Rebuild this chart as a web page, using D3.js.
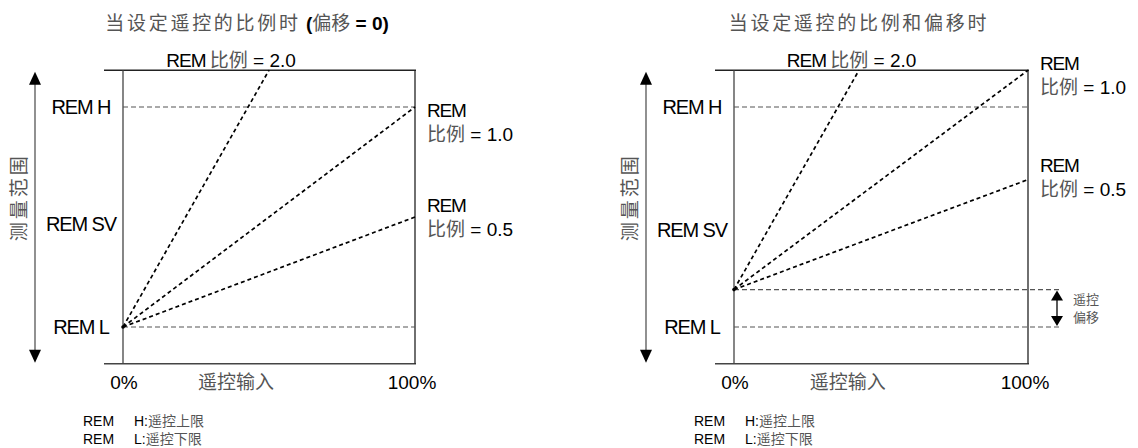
<!DOCTYPE html>
<html>
<head>
<meta charset="utf-8">
<script src="https://cdn.jsdelivr.net/npm/d3@7"></script>
<style>
  body { margin: 0; background: #fff; }
  text { font-family: "Liberation Sans", Arial, "Noto Sans CJK SC", sans-serif; }
  .cjk { font-family: "Noto Sans CJK SC", sans-serif; fill: #555; }
</style>
</head>
<body>
<div id="chart"></div>
<script>
// chart values
const panelTitles = ["当设定遥控的比例时", "当设定遥控的比例和偏移时"];
const scaleLabels = ["2.0", "1.0", "0.5"];
const rangeLabels = ["REM H", "REM SV", "REM L"];
const rangeValues = [[100, 47, 0], [100, 44, 0]];
const offsetValues = [0, 17];
const leftLines = [[[0, 0], [50, 116.7]], [[0, 0], [100, 100]], [[0, 0], [100, 50]]];
const rightLines = [[[0, 17], [42.5, 116.7]], [[0, 17], [100, 116.7]], [[0, 17], [100, 67]]];
const inputTicks = [0, 100];
const inputTickLabels = ["0%", "100%"];
const inputLabel = "遥控输入";
const rangeTitle = "测量范围";
const footKeys = ["H", "L"];
const footTexts = ["遥控上限", "遥控下限"];
const offsetText = ["遥控", "偏移"];
// where the "REM / 比例 = x" labels sit, in output units
const endLabelValues = [[98.6, 55.5], [120, 73.6]];

const W = 1138, H = 448;
const svg = d3.select("#chart").append("svg")
  .attr("width", W).attr("height", H);

const panels = [
  {x0: 123, x1: 415, lines: leftLines},
  {x0: 734, x1: 1028, lines: rightLines}
];

function arrowHead(g, x, tipY, dir, w, h) {
  // dir = -1 points up, 1 points down
  g.append("path")
    .attr("d", `M${x},${tipY} L${x - w / 2},${tipY - dir * h} L${x + w / 2},${tipY - dir * h} Z`)
    .attr("fill", "#000");
}

panels.forEach((p, i) => {
  const g = svg.append("g");
  const x = d3.scaleLinear().domain([0, 100]).range([p.x0, p.x1]);
  const y = d3.scaleLinear().domain([0, 100]).range([327, 107]);
  const yTop = y(116.7), yBot = y(-16.7);
  const extra = i === 1 ? 34 : 0;

  // title
  const t = g.append("text")
    .attr("x", x(42.5)).attr("y", 23).attr("dy", "0.35em")
    .attr("text-anchor", "middle").attr("font-size", 19);
  t.append("tspan").attr("class", "cjk").attr("letter-spacing", 2.7).text(panelTitles[i]);
  if (i === 0) {
    t.append("tspan").attr("font-weight", "bold").text(" (");
    t.append("tspan").attr("class", "cjk").text("偏移");
    t.append("tspan").attr("font-weight", "bold").text(" = " + offsetValues[0] + ")");
  }

  // frame
  g.append("line").attr("x1", p.x0 - 19).attr("x2", p.x1 + 1).attr("y1", yTop).attr("y2", yTop)
    .attr("stroke", "#222").attr("stroke-width", 1.3);
  g.append("line").attr("x1", p.x0 - 19).attr("x2", p.x1 + 1).attr("y1", yBot).attr("y2", yBot)
    .attr("stroke", "#444").attr("stroke-width", 1.3);
  g.append("line").attr("x1", p.x0).attr("x2", p.x0).attr("y1", yTop).attr("y2", yBot)
    .attr("stroke", "#444").attr("stroke-width", 1.3);
  g.append("line").attr("x1", p.x1).attr("x2", p.x1).attr("y1", yTop).attr("y2", yBot)
    .attr("stroke", "#222").attr("stroke-width", 1.3);

  // REM H / REM L reference lines (and offset line)
  const refs = [{v: rangeValues[i][0], end: p.x1}, {v: rangeValues[i][2], end: p.x1 + extra}];
  if (offsetValues[i] > 0) refs.push({v: offsetValues[i], end: p.x1 + extra});
  g.selectAll(".ref").data(refs).join("line")
    .attr("class", "ref")
    .attr("x1", p.x0).attr("x2", d => d.end)
    .attr("y1", d => y(d.v)).attr("y2", d => y(d.v))
    .attr("stroke", "#555").attr("stroke-width", 1.1)
    .attr("stroke-dasharray", "5,3");

  // scale lines
  const line = d3.line().x(d => x(d[0])).y(d => y(d[1]));
  g.selectAll(".scl").data(p.lines).join("path")
    .attr("class", "scl")
    .attr("d", line)
    .attr("fill", "none").attr("stroke", "#000").attr("stroke-width", 1.7)
    .attr("stroke-dasharray", "4,3");
  g.append("circle").attr("cx", x(0)).attr("cy", y(offsetValues[i])).attr("r", 1.8).attr("fill", "#000");

  // 2.0 label on top
  const top = g.append("text").attr("x", x(i === 0 ? 37 : 40)).attr("y", yTop - 10).attr("dy", "0.35em")
    .attr("text-anchor", "middle").attr("font-size", 19);
  top.append("tspan").attr("letter-spacing", -1).text("REM ");
  top.append("tspan").attr("class", "cjk").text("比例");
  top.append("tspan").text(" = " + scaleLabels[0]);

  // end labels for 1.0 and 0.5
  endLabelValues[i].forEach((v, k) => {
    const ly = y(v);
    g.append("text").attr("x", p.x1 + 12).attr("y", ly).attr("dy", "0.35em")
      .attr("font-size", 19).attr("letter-spacing", -1.2).text("REM");
    const tt = g.append("text").attr("x", p.x1 + 12).attr("y", ly + 24).attr("dy", "0.35em")
      .attr("font-size", 19);
    tt.append("tspan").attr("class", "cjk").text("比例");
    tt.append("tspan").text(" = " + scaleLabels[k + 1]);
  });

  // range labels
  g.selectAll(".rl").data(rangeLabels).join("text")
    .attr("class", "rl")
    .attr("x", p.x0 - 42).attr("y", (d, k) => y(rangeValues[i][k])).attr("dy", "0.35em")
    .attr("text-anchor", "middle").attr("font-size", 20).attr("letter-spacing", -1.1)
    .text(d => d);

  // measuring range arrow
  const ax = p.x0 - 88;
  g.append("line").attr("x1", ax).attr("x2", ax).attr("y1", yTop + 10).attr("y2", yBot - 10)
    .attr("stroke", "#555").attr("stroke-width", 1.3);
  arrowHead(g, ax, yTop + 1.5, -1, 12, 13);
  arrowHead(g, ax, yBot - 1, 1, 12, 13);
  g.append("text").attr("class", "cjk")
    .attr("transform", `translate(${ax - 16},${y(59)}) rotate(-90)`)
    .attr("dy", "0.35em").attr("text-anchor", "middle")
    .attr("font-size", 19).attr("letter-spacing", 3).text(rangeTitle);

  // input axis labels
  g.selectAll(".tk").data(inputTicks).join("text")
    .attr("class", "tk")
    .attr("x", d => x(d) + (d === 0 ? 1 : -3)).attr("y", 382).attr("dy", "0.35em")
    .attr("text-anchor", "middle").attr("font-size", 19)
    .text((d, k) => inputTickLabels[k]);
  g.append("text").attr("class", "cjk")
    .attr("x", x(38.7)).attr("y", 382).attr("dy", "0.35em")
    .attr("text-anchor", "middle").attr("font-size", 19).text(inputLabel);

  // offset double arrow
  if (offsetValues[i] > 0) {
    const ox = p.x1 + 29;
    const yo = y(offsetValues[i]), yl = y(0);
    g.append("line").attr("x1", ox).attr("x2", ox).attr("y1", yo + 6).attr("y2", yl - 6)
      .attr("stroke", "#000").attr("stroke-width", 1.3);
    arrowHead(g, ox, yo + 1, -1, 12, 10);
    arrowHead(g, ox, yl - 1, 1, 12, 10);
    offsetText.forEach((s, k) => {
      g.append("text").attr("class", "cjk")
        .attr("x", ox + 16).attr("y", yo + 10 + k * 18).attr("dy", "0.35em")
        .attr("font-size", 13).text(s);
    });
  }

  // footnotes
  footKeys.forEach((k, j) => {
    const fy = 421 + j * 18;
    const fx = p.x0 - 40;
    g.append("text").attr("x", fx).attr("y", fy).attr("dy", "0.35em").attr("font-size", 14).text("REM");
    const ft = g.append("text").attr("x", fx + 51).attr("y", fy).attr("dy", "0.35em").attr("font-size", 14);
    ft.append("tspan").text(k + ":");
    ft.append("tspan").attr("class", "cjk").attr("font-size", 14).text(footTexts[j]);
  });
});
</script>
</body>
</html>
